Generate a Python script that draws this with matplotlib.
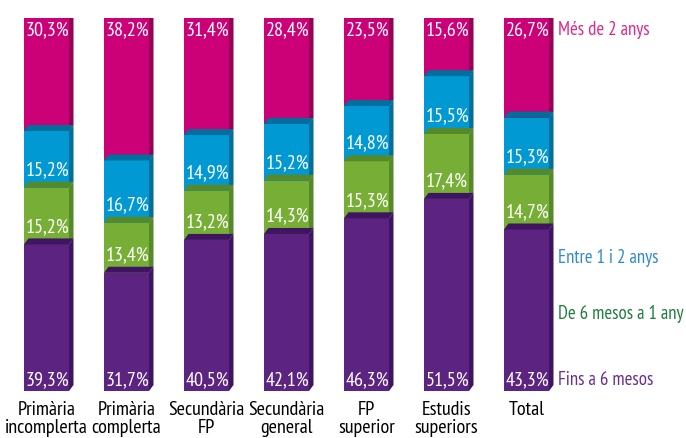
import numpy as np
import matplotlib.pyplot as plt
from matplotlib.patches import Polygon, Rectangle

categories = ["Primària\nincomplerta", "Primària\ncomplerta", "Secundària\nFP",
              "Secundària\ngeneral", "FP\nsuperior", "Estudis\nsuperiors", "Total"]
fins_6_mesos = [39.3, 31.7, 40.5, 42.1, 46.3, 51.5, 43.3]
de_6_mesos_a_1_any = [15.2, 13.4, 13.2, 14.3, 15.3, 17.4, 14.7]
entre_1_i_2_anys = [15.2, 16.7, 14.9, 15.2, 14.8, 15.5, 15.3]
mes_de_2_anys = [30.3, 38.2, 31.4, 28.4, 23.5, 15.6, 26.7]
series_names = ["Fins a 6 mesos", "De 6 mesos a 1 any", "Entre 1 i 2 anys", "Més de 2 anys"]

# front, darker (top/side), legend text colour
colors = [("#5c2480", "#3f1562", "#6a2e91"),
          ("#77ae35", "#56892a", "#1e7d3e"),
          ("#0099d4", "#006f9b", "#2f8ad0"),
          ("#cc0077", "#970057", "#e3268a")]

plt.rcParams['font.family'] = ['PT Sans Narrow', 'Fira Sans Condensed', 'DejaVu Sans']

fig = plt.figure(figsize=(6.86, 4.38), dpi=100)
ax = fig.add_axes([0, 47 / 438, 1, 373 / 438])
ax.set_xlim(-46.5 / 80, (686 - 46.5) / 80)
ax.set_ylim(0, 100)
ax.axis('off')

width = 45 / 80
dx = 4.5 / 80
dy = 6 / 3.73

data = np.array([fins_6_mesos, de_6_mesos_a_1_any, entre_1_i_2_anys, mes_de_2_anys])
bottoms = np.vstack([np.zeros(len(categories)), np.cumsum(data, axis=0)[:-1]])

for i in range(len(categories)):
    x0 = i - width / 2
    x1 = i + width / 2
    # draw from top segment down so each top face overlaps the segment above
    for s in range(3, -1, -1):
        front, dark, _ = colors[s]
        y0 = bottoms[s, i]
        y1 = y0 + data[s, i]
        ax.add_patch(Rectangle((x0, y0), width, data[s, i], facecolor=front, edgecolor='none'))
        ax.add_patch(Polygon([(x1, y0), (x1 + dx, y0 + dy), (x1 + dx, y1 + dy), (x1, y1)],
                             closed=True, facecolor=dark, edgecolor='none'))
        ax.add_patch(Polygon([(x0, y1), (x0 + dx, y1 + dy), (x1 + dx, y1 + dy), (x1, y1)],
                             closed=True, facecolor=dark, edgecolor='none'))
        label = f"{data[s, i]:.1f}".replace('.', ',') + "%"
        if s == 3:
            ly = y1 - 3.3
        elif s == 0:
            ly = y0 + 3.0
        else:
            ly = y0 + 4.7
        ax.text(i + 0.01, ly, label, ha='center', va='center', color='white', fontsize=14.5)
    ax.text(i, -2.8, categories[i], ha='center', va='top', fontsize=14.5,
            linespacing=0.95, clip_on=False)

# series names at the right
legend_x = (558 - 46.5) / 80
legend_y = [2.95, 20.6, 35.7, 96.8]
for s in range(4):
    ax.text(legend_x, legend_y[s], series_names[s], ha='left', va='center',
            color=colors[s][2], fontsize=13.5)

fig.savefig("out.png", dpi=100)
